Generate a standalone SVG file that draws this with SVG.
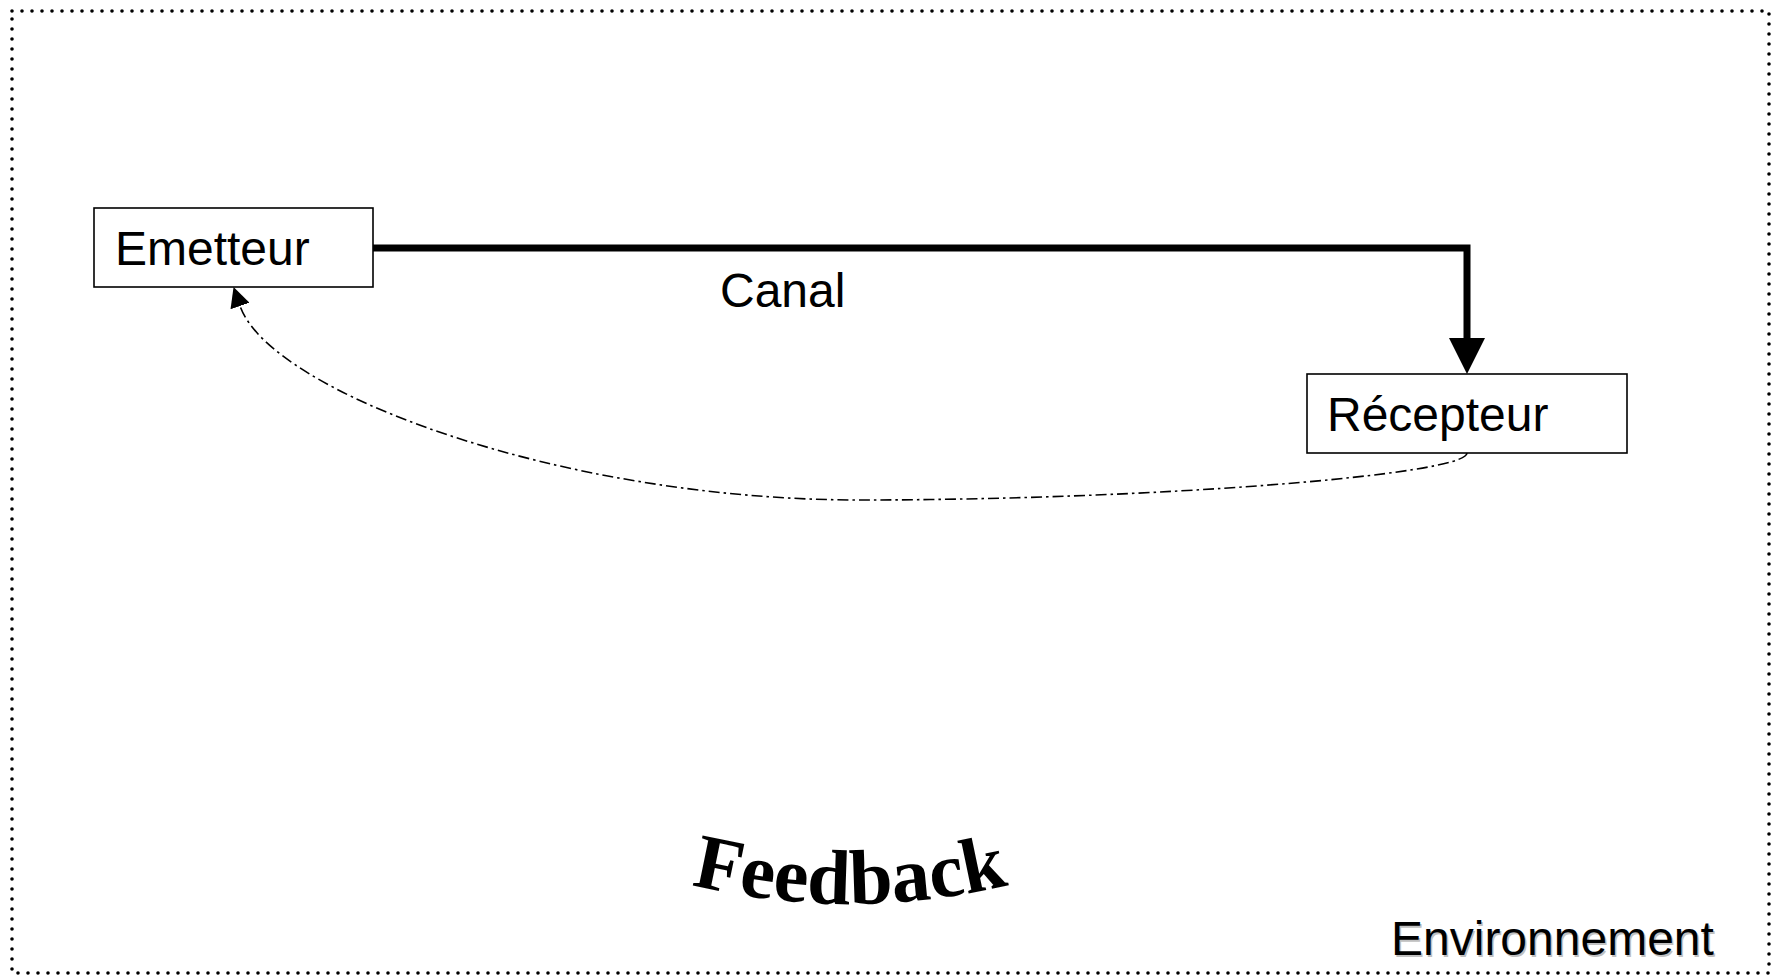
<svg xmlns="http://www.w3.org/2000/svg" width="1771" height="978" viewBox="0 0 1771 978">
<style>
.box{fill:#fff;stroke:#000;stroke-width:1.6}
.lbl{font-family:"Liberation Sans",Arial,sans-serif;font-size:48px;fill:#000}
</style>
<defs>
<marker id="thick" viewBox="0 0 36 36" refX="8" refY="18" markerWidth="36" markerHeight="36" markerUnits="userSpaceOnUse" orient="auto">
<path d="M0,0 L36,18 L0,36 z" fill="#000"/>
</marker>
<marker id="thin" viewBox="0 0 20 20" refX="0" refY="10" markerWidth="20" markerHeight="20" markerUnits="userSpaceOnUse" orient="auto">
<path d="M0,0 L20,10 L0,20 z" fill="#000"/>
</marker>
<path id="arc" d="M 672 880 Q 850 928 1028 880"/>
</defs>
<rect id="environnement-border" x="12" y="11" width="1757" height="962" fill="none" stroke="#000" stroke-width="3.6" stroke-linecap="round" stroke-dasharray="0 10"/>
<g id="connectors">
<path d="M 373 248 L 1467 248 L 1467 346" fill="none" stroke="#000" stroke-width="7" stroke-linejoin="miter" marker-end="url(#thick)"/>
<path d="M 1467 453 C 1467 475, 1150 500, 860 500 C 560 500, 270 392, 240 306" fill="none" stroke="#000" stroke-width="1.6" stroke-dasharray="11 4 2.5 4"/>
<path d="M 241.6 310.7 L 240 306" fill="none" stroke="none" marker-end="url(#thin)"/>
</g>
<g id="emetteur">
<rect class="box" x="94" y="208" width="279" height="79"/>
<text class="lbl" x="115" y="265">Emetteur</text>
</g>
<g id="recepteur">
<rect class="box" x="1307" y="374" width="320" height="79"/>
<text class="lbl" x="1327" y="431">Récepteur</text>
</g>
<text id="canal" class="lbl" x="720" y="307">Canal</text>
<g id="feedback">
<text font-family="'Liberation Serif','Times New Roman',serif" font-weight="bold" font-size="78" fill="#000" text-anchor="middle"><textPath href="#arc" startOffset="50%">Feedback</textPath></text>
</g>
<g id="environnement">
<text class="lbl" x="1392.5" y="956.5" style="fill:#c0c0c0">Environnement</text>
<text class="lbl" x="1391" y="955">Environnement</text>
</g>
</svg>
